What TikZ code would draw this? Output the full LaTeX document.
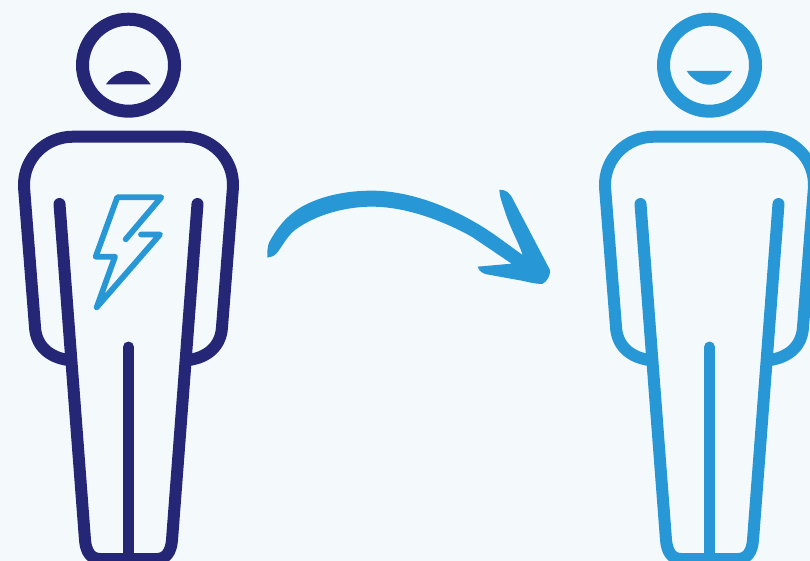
\documentclass[tikz,border=0pt]{standalone}
\usepackage{xcolor}
\definecolor{navy}{HTML}{252675}
\definecolor{sky}{HTML}{2797D5}
\definecolor{paper}{HTML}{F4FAFC}
\tikzset{
  outline/.style={line width=12pt,line cap=round,line join=round},
  bolt/.style={line width=5.8pt,sky,line cap=round,line join=round}
}
\begin{document}
\begin{tikzpicture}[x=1pt,y=-1pt]
  \useasboundingbox (0,0) rectangle (810,561);
  \clip (0,0) rectangle (810,561);
  \fill[paper] (0,0) rectangle (810,561);
  % two figures, same outline
  \foreach \dx/\col in {0/navy,581/sky}{
    \begin{scope}[xshift=\dx pt,draw=\col]
      \draw[line width=13pt] (128.5,65.2) circle (46);
      % arms and shoulders
      \draw[outline] (68,360) .. controls (48,357) and (36,345) .. (35,327) -- (24,187)
        .. controls (23,158) and (46,136.7) .. (73,136.7) -- (184,136.7)
        .. controls (211,136.7) and (234,158) .. (233,187) -- (222,327)
        .. controls (221,345) and (209,357) .. (189,360);
      % legs
      \draw[outline] (59.5,204) -- (85,540) .. controls (86,552) and (91,559) .. (100,559)
        -- (157,559) .. controls (166,559) and (171,552) .. (172,540) -- (197.5,204);
      \draw[outline,line width=11pt] (128.5,347) -- (128.5,565);
    \end{scope}
  }
  % mouths
  \fill[navy] (106,84.3) .. controls (112,76) and (120,71) .. (128.5,71)
    .. controls (137,71) and (145,76) .. (150.7,84.3) -- cycle;
  \fill[sky] (686.7,71) .. controls (692,79) and (700,84.7) .. (709.5,84.7)
    .. controls (719,84.7) and (727,79) .. (732,71) -- cycle;
  % lightning
  \draw[bolt] (125.7,239.3) -- (161.3,197.3) -- (117.3,197.3) -- (95.7,256.7) -- (115,256.7)
    -- (96.7,307.3) -- (160,234.5) -- (141,234.5);
  % curved arrow
  \begin{scope}[shift={(255,170)},x=0.3333pt,y=-0.3333pt]
    \fill[sky] (37,263) .. controls (36,245) and (38,228) .. (42,218)
      .. controls (70,165) and (105,128) .. (150,105)
      .. controls (215,72) and (290,62) .. (350,62)
      .. controls (480,62) and (620,125) .. (720,195)
      -- (803,255) .. controls (790,215) and (770,185) .. (750,125)
      .. controls (742,100) and (735,85) .. (733,60)
      .. controls (755,58) and (765,70) .. (775,90)
      -- (885,300) .. controls (887,318) and (875,335) .. (862,342)
      .. controls (840,342) and (820,336) .. (800,332)
      -- (695,313) .. controls (682,310) and (672,303) .. (668,290)
      -- (770,281) -- (650,200)
      .. controls (560,150) and (450,110) .. (350,110)
      .. controls (270,110) and (180,135) .. (120,180)
      .. controls (95,200) and (85,225) .. (65,250)
      .. controls (57,258) and (48,262) .. (37,263) -- cycle;
  \end{scope}
\end{tikzpicture}
\end{document}
